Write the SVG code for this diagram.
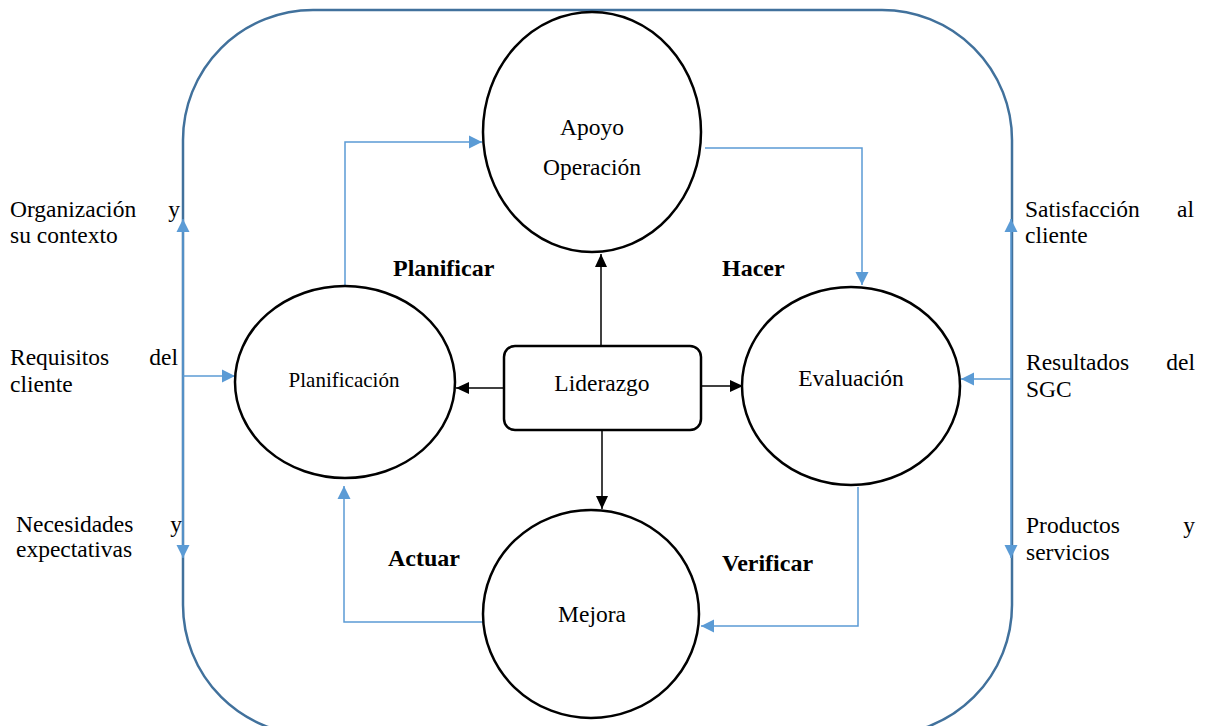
<svg xmlns="http://www.w3.org/2000/svg" width="1205" height="726" viewBox="0 0 1205 726">
<style>
.frame{fill:none;stroke:#41719C;stroke-width:2.5}
.node{fill:#fff;stroke:#000;stroke-width:2.5}
.blue{fill:none;stroke:#5B9BD5;stroke-width:1.5}
.black{fill:none;stroke:#000;stroke-width:1.5}
text{font-family:'Liberation Serif','DejaVu Serif',serif;fill:#000}
.t{font-size:23.5px}
.b{font-size:24px;font-weight:bold}
</style>
<defs>
<marker id="ab" markerUnits="userSpaceOnUse" markerWidth="14" markerHeight="14" refX="13" refY="7" orient="auto"><path d="M0,0.5 L13,7 L0,13.5 z" fill="#5B9BD5"/></marker>
<marker id="ak" markerUnits="userSpaceOnUse" markerWidth="14" markerHeight="14" refX="13" refY="6.5" orient="auto"><path d="M0,0.5 L13,6.5 L0,12.5 z" fill="#000"/></marker>
</defs>
<rect id="frame" class="frame" x="183" y="10" width="829" height="725" rx="130" ry="130"/>
<g id="connectors">
<polyline class="blue" points="345,286 345,142 482,142" marker-end="url(#ab)"/>
<polyline class="blue" points="705,148 862,148 862,285" marker-end="url(#ab)"/>
<polyline class="blue" points="858,487 858,626 701,626" marker-end="url(#ab)"/>
<polyline class="blue" points="483,622 344,622 344,486" marker-end="url(#ab)"/>
<line class="black" x1="601" y1="346" x2="601" y2="254" marker-end="url(#ak)"/>
<line class="black" x1="602" y1="431" x2="602" y2="509" marker-end="url(#ak)"/>
<line class="black" x1="503" y1="388" x2="456" y2="388" marker-end="url(#ak)"/>
<line class="black" x1="702" y1="386" x2="743" y2="386" marker-end="url(#ak)"/>
<line class="blue" x1="183" y1="376" x2="183" y2="219" marker-end="url(#ab)"/>
<line class="blue" x1="183" y1="376" x2="183" y2="558" marker-end="url(#ab)"/>
<line class="blue" x1="183" y1="376" x2="235" y2="376" marker-end="url(#ab)"/>
<line class="blue" x1="1011" y1="379" x2="1011" y2="219" marker-end="url(#ab)"/>
<line class="blue" x1="1011" y1="379" x2="1011" y2="558" marker-end="url(#ab)"/>
<line class="blue" x1="1011" y1="379" x2="961" y2="379" marker-end="url(#ab)"/>
</g>
<g id="apoyo"><ellipse class="node" cx="592" cy="132" rx="109" ry="120"/>
<text class="t" x="592" y="135" text-anchor="middle">Apoyo</text>
<text class="t" x="592" y="175" text-anchor="middle">Operación</text></g>
<g id="planificacion"><ellipse class="node" cx="345" cy="382" rx="110" ry="96"/>
<text class="t" x="344" y="387" text-anchor="middle" style="font-size:21px">Planificación</text></g>
<g id="evaluacion"><ellipse class="node" cx="851" cy="386" rx="109" ry="99"/>
<text class="t" x="851" y="386" text-anchor="middle">Evaluación</text></g>
<g id="mejora"><ellipse class="node" cx="591" cy="614" rx="108" ry="104"/>
<text class="t" x="592" y="622" text-anchor="middle">Mejora</text></g>
<g id="liderazgo"><rect class="node" x="504" y="346" width="197" height="84" rx="11"/>
<text class="t" x="602" y="391" text-anchor="middle">Liderazgo</text></g>
<g id="labels">
<text class="b" x="393" y="276">Planificar</text>
<text class="b" x="722" y="276">Hacer</text>
<text class="b" x="388" y="566">Actuar</text>
<text class="b" x="722" y="571">Verificar</text>
<text class="t" x="10" y="217">Organización</text><text class="t" x="180" y="217" text-anchor="end">y</text>
<text class="t" x="10" y="243">su contexto</text>
<text class="t" x="10" y="365">Requisitos</text><text class="t" x="178" y="365" text-anchor="end">del</text>
<text class="t" x="10" y="392">cliente</text>
<text class="t" x="16" y="532">Necesidades</text><text class="t" x="182" y="532" text-anchor="end">y</text>
<text class="t" x="16" y="557">expectativas</text>
<text class="t" x="1025" y="217">Satisfacción</text><text class="t" x="1194" y="217" text-anchor="end">al</text>
<text class="t" x="1025" y="243">cliente</text>
<text class="t" x="1026" y="370">Resultados</text><text class="t" x="1195" y="370" text-anchor="end">del</text>
<text class="t" x="1026" y="397">SGC</text>
<text class="t" x="1026" y="533">Productos</text><text class="t" x="1195" y="533" text-anchor="end">y</text>
<text class="t" x="1026" y="560">servicios</text>
</g>
</svg>
